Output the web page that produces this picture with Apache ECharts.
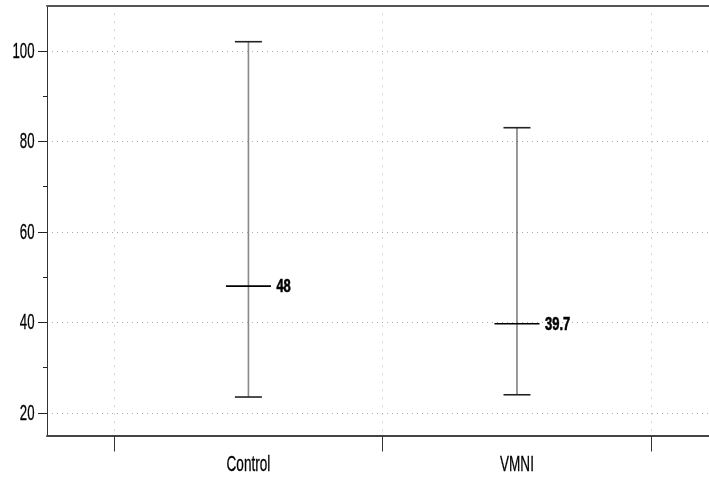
<!DOCTYPE html>
<html>
<head>
<meta charset="utf-8">
<script src="https://cdn.jsdelivr.net/npm/echarts@6/dist/echarts.min.js"></script>
<style>html,body{margin:0;padding:0;background:#fff}#c{width:709px;height:481px}</style>
</head>
<body>
<div id="c"></div>
<script>
var categories = ['Control', 'VMNI'];
var lowValues = [23.5, 24];
var highValues = [102, 83];
var meanValues = [48, 39.7];
var yTicks = [20, 40, 60, 80, 100];
var yMinorTicks = [30, 50, 70, 90];
var xTickPositions = [0.5, 1.5, 2.5];
var categoryPositions = [1, 2];

var FONT = '"Liberation Sans", Arial, sans-serif';
var chart = echarts.init(document.getElementById('c'));

var data = categories.map(function (c, i) {
  return [categoryPositions[i], lowValues[i], highValues[i], meanValues[i], c];
});

function narrowText(x, y, text, size, weight, sx, align, vAlign, strokeW) {
  return {
    type: 'text', x: x, y: y, scaleX: sx, scaleY: 1,
    style: {
      x: 0, y: 0, text: text, fill: '#000', font: weight + ' ' + size + 'px ' + FONT,
      align: align, verticalAlign: vAlign, stroke: '#000', lineWidth: strokeW
    }
  };
}

chart.setOption({
  animation: false,
  grid: { left: 47, right: 0, top: 5.5, bottom: 45.5 },
  xAxis: [{
    type: 'value', min: 0.25, max: 2.715, position: 'bottom',
    axisLine: { show: true, lineStyle: { color: '#444', width: 2 } },
    axisTick: { show: true, customValues: xTickPositions, length: 16, inside: false, lineStyle: { color: '#333', width: 1 } },
    axisLabel: { show: false },
    splitLine: { show: true, lineStyle: { color: '#aaa', type: [1, 7], width: 1 } }
  }, {
    type: 'value', min: 0.25, max: 2.715, position: 'top',
    axisLine: { show: true, lineStyle: { color: '#555', width: 2 } },
    axisTick: { show: false }, axisLabel: { show: false }, splitLine: { show: false }
  }],
  yAxis: [{
    type: 'value', min: 15, max: 110, position: 'left',
    axisLine: { show: true, lineStyle: { color: '#333', width: 1 } },
    axisTick: { show: true, customValues: yTicks, length: 9, lineStyle: { color: '#222', width: 1 } },
    axisLabel: { show: false },
    splitLine: { show: true, lineStyle: { color: '#aaa', type: [1, 4], width: 1 } }
  }, {
    type: 'value', min: 15, max: 110, position: 'left',
    axisLine: { show: false },
    axisTick: { show: true, customValues: yMinorTicks, length: 4, lineStyle: { color: '#222', width: 1 } },
    axisLabel: { show: false }, splitLine: { show: false }
  }],
  series: [{
    type: 'custom',
    name: 'yTickLabels',
    xAxisIndex: 0, yAxisIndex: 0,
    clip: false,
    data: yTicks.map(function (v) { return [categoryPositions[0], v]; }),
    renderItem: function (params, api) {
      var p = api.coord([api.value(0), api.value(1)]);
      return narrowText(params.coordSys.x - 12.5, p[1] + 1, String(api.value(1)), 22, 'normal', 0.6, 'right', 'middle', 0.3);
    }
  }, {
    type: 'custom',
    name: 'errorBars',
    xAxisIndex: 0, yAxisIndex: 0,
    clip: false,
    data: data,
    dimensions: ['x', 'low', 'high', 'mean', { name: 'cat', type: 'ordinal' }],
    renderItem: function (params, api) {
      var idx = params.dataIndex;
      var x = api.value(0);
      var lo = api.coord([x, api.value(1)]);
      var hi = api.coord([x, api.value(2)]);
      var mn = api.coord([x, api.value(3)]);
      var capW = 13.5, meanW = 22.5;
      var bottomY = params.coordSys.y + params.coordSys.height;
      return {
        type: 'group',
        children: [
          { type: 'line', shape: { x1: lo[0], y1: lo[1], x2: hi[0], y2: hi[1] }, style: { stroke: idx === 0 ? '#888' : '#333', lineWidth: idx === 0 ? 1.6 : 1 } },
          { type: 'line', shape: { x1: hi[0] - capW, y1: hi[1], x2: hi[0] + capW, y2: hi[1] }, style: { stroke: '#222', lineWidth: 1.6 } },
          { type: 'line', shape: { x1: lo[0] - capW, y1: lo[1], x2: lo[0] + capW, y2: lo[1] }, style: { stroke: '#222', lineWidth: 1.6 } },
          { type: 'line', shape: { x1: mn[0] - meanW, y1: mn[1], x2: mn[0] + meanW, y2: mn[1] }, style: { stroke: '#000', lineWidth: 1.6 } },
          narrowText(mn[0] + meanW + 5.5, mn[1] + 1, String(meanValues[idx]), 18.5, 'bold', 0.7, 'left', 'middle', 0.6),
          narrowText(lo[0], bottomY + 30, categories[idx], 21.5, 'normal', 0.63, 'center', 'middle', 0.3)
        ]
      };
    }
  }]
});
</script>
</body>
</html>
